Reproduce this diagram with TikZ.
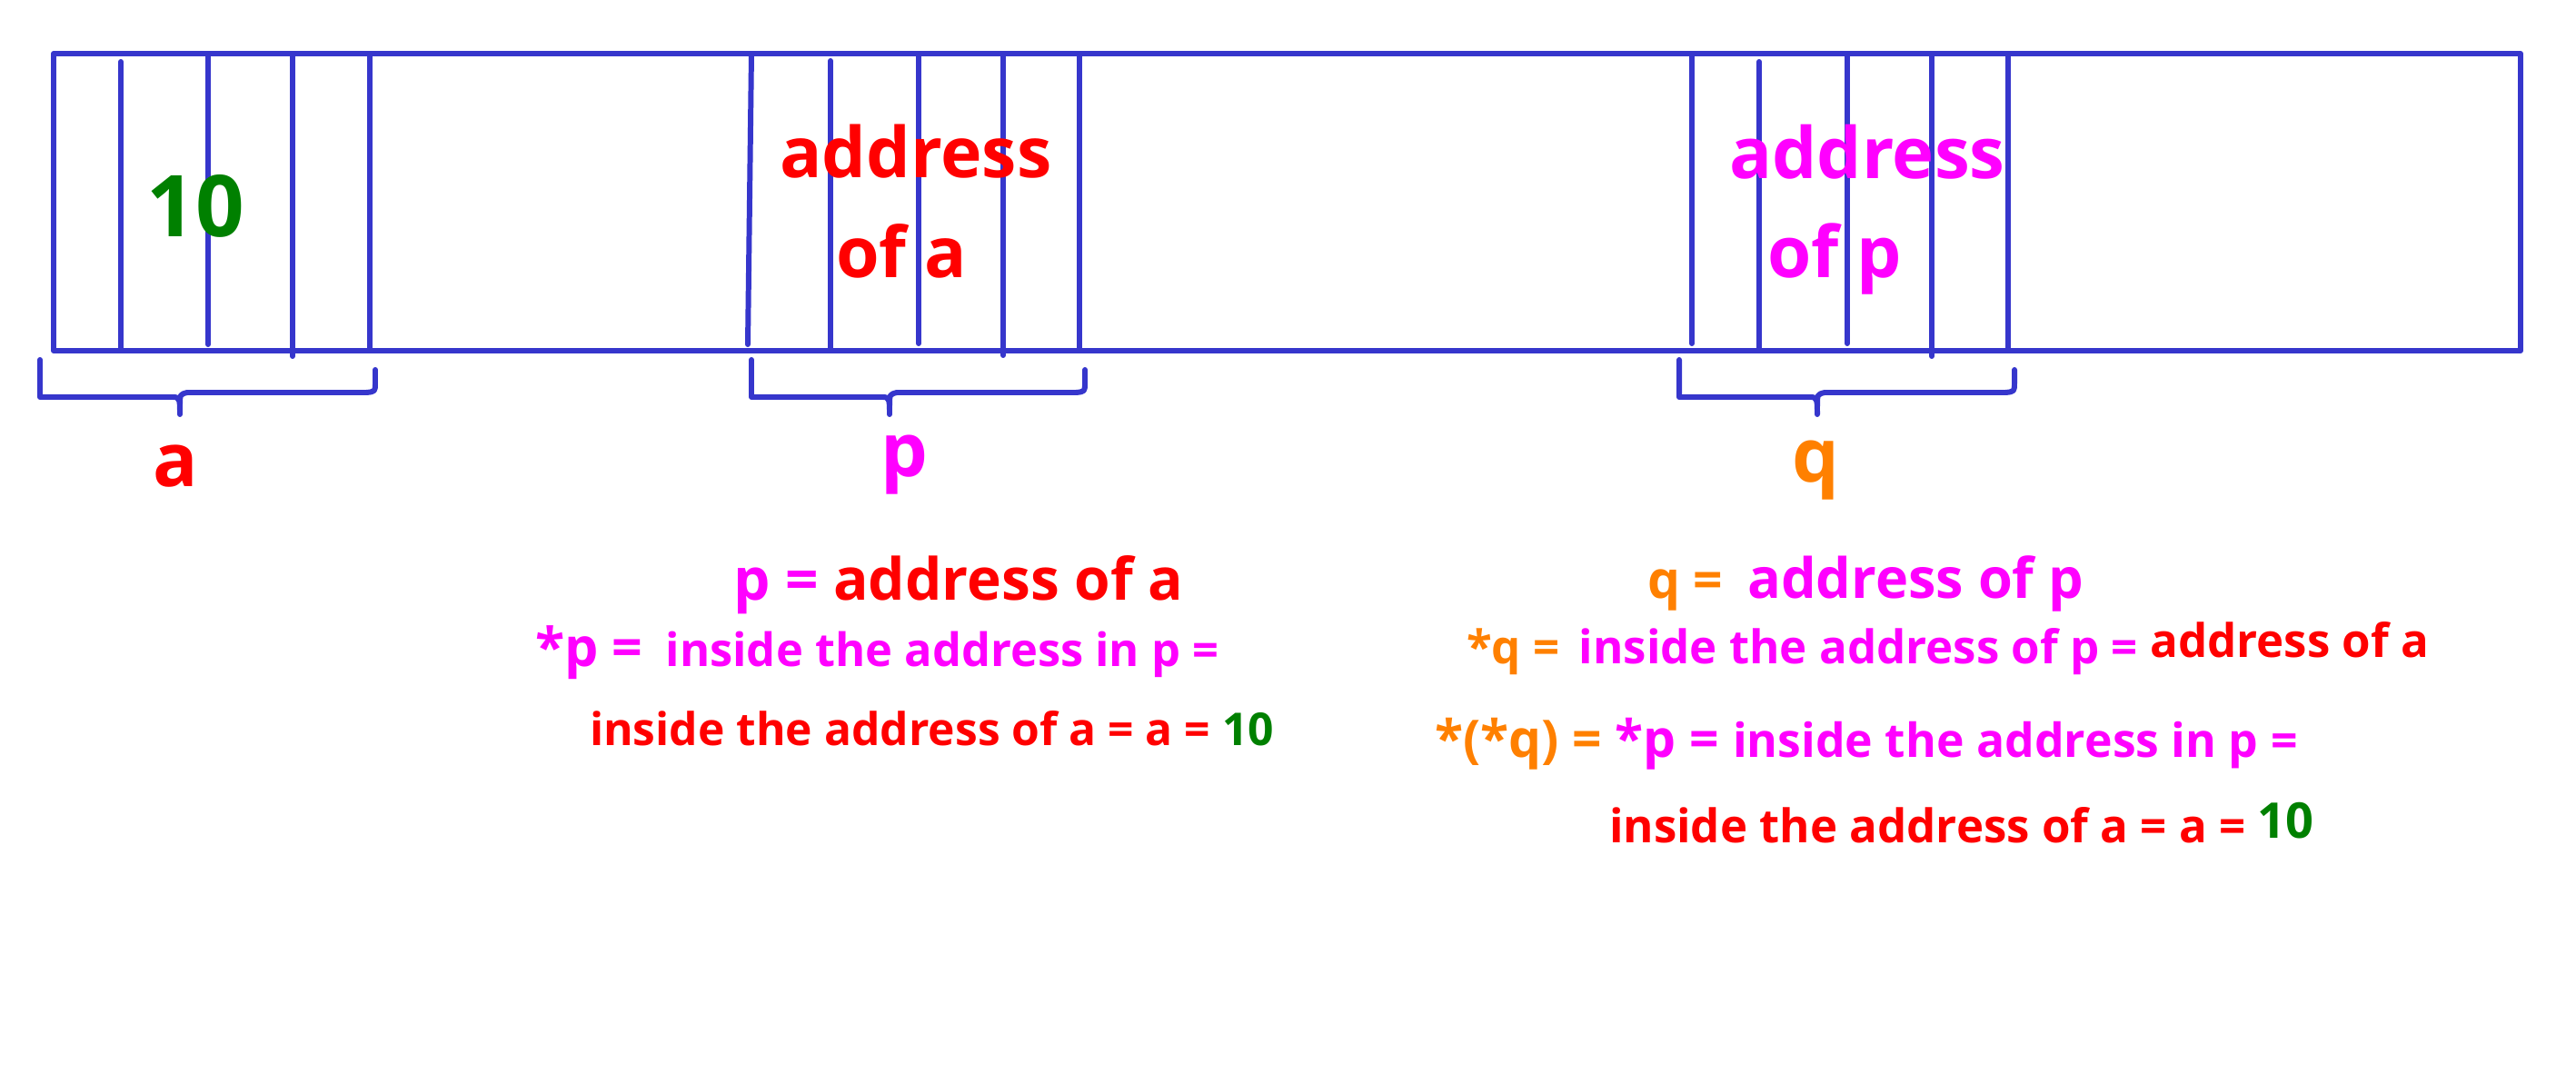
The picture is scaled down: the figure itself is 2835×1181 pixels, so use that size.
\documentclass[tikz,border=0pt]{standalone}
\usepackage{fontspec}
\setmainfont{Open Sans}
\definecolor{linecol}{RGB}{54,54,204}
\definecolor{cred}{RGB}{255,0,0}
\definecolor{cmag}{RGB}{255,0,255}
\definecolor{corg}{RGB}{255,128,0}
\definecolor{cgrn}{RGB}{0,128,0}
\newcommand\fsz[1]{\fontsize{#1}{#1}\selectfont}
\newcommand\drawbrace[3]{%
  \draw[mem] (#1,396) -- (#1,437) -- ({#2-7},437) .. controls (#2,437) and (#2,441) .. (#2,456);
  \draw[mem] (#2,447) .. controls (#2,434) .. ({#2+8},432) -- ({#3-10},432) .. controls (#3,431) .. (#3,421) -- (#3,407);}
\begin{document}
\begin{tikzpicture}[x=0.01cm,y=-0.01cm,
  mem/.style={draw=linecol,line width=1.7pt,line cap=round,line join=round},
  txt/.style={inner sep=0pt,outer sep=0pt,font=\bfseries},
  lbl/.style={txt,anchor=base,font=\bfseries\fsz{23.3pt}}]
\useasboundingbox (0,0) rectangle (2835,1181);
% memory strip
\draw[mem] (59,59) rectangle (2774,386);
% cells of a
\draw[mem] (133,68) -- (133,386);
\draw[mem] (229,59) -- (229,379);
\draw[mem] (322,59) -- (322,392);
\draw[mem] (407,59) -- (407,386);
% cells of p
\draw[mem] (827,59) -- (823,379);
\draw[mem] (914,67) -- (914,386);
\draw[mem] (1011,59) -- (1011,378);
\draw[mem] (1104,59) -- (1104,391);
\draw[mem] (1188,59) -- (1188,386);
% cells of q
\draw[mem] (1862,59) -- (1862,378);
\draw[mem] (1936,68) -- (1936,386);
\draw[mem] (2033,59) -- (2033,378);
\draw[mem] (2126,59) -- (2126,392);
\draw[mem] (2210,59) -- (2210,386);
% braces
\drawbrace{44}{198}{413}
\drawbrace{827}{979}{1194}
\drawbrace{1848}{2000}{2217}
% contents
\node[txt,anchor=base,text=cgrn,font=\bfseries\fsz{26.7pt}] (ten) at (215,260) {10};
\node[txt,anchor=base west,text=cred,font=\bfseries\fsz{21.9pt}] (pa1) at (858,195) {address};
\node[txt,anchor=base west,text=cred,font=\bfseries\fsz{21.9pt}] (pa2) at (920,305) {of a};
\node[txt,anchor=base west,text=cmag,font=\bfseries\fsz{22.2pt}] (qa1) at (1903,196) {address};
\node[txt,anchor=base west,text=cmag,font=\bfseries\fsz{22.2pt}] (qa2) at (1945,305) {of p};
% labels
\node[lbl,text=cred] (la) at (193,535) {a};
\node[lbl,text=cmag] (lp) at (995,524) {p};
\node[lbl,text=corg] (lq) at (1998,530) {q};
% left explanation
\node[txt,anchor=base west,font=\bfseries\fsz{18.2pt}] (l1) at (807,660)
  {\color{cmag}p = \color{cred}address of a};
\node[txt,anchor=base west] (l2) at (589,733)
  {\color{cmag}\fsz{16.8pt}*p =\hspace{0.25cm}\fsz{14.4pt}inside the address in p =};
\node[txt,anchor=base west,font=\bfseries\fsz{14.15pt}] (l3) at (649,820)
  {\color{cred}inside the address of a = a = \color{cgrn}10};
% right explanation
\node[txt,anchor=base west] (r1) at (1813,658)
  {\color{corg}\fsz{16.2pt}q = \hspace{0.12cm}\color{cmag}\fsz{17.4pt}address of p};
\node[txt,anchor=base west] (r2) at (1614,730)
  {\fsz{14.5pt}\color{corg}*q = \hspace{0.08cm}\color{cmag}inside the address of p = \raisebox{0.07cm}{\color{cred}address of a}};
\node[txt,anchor=base west] (r3) at (1579,833)
  {\fsz{16.2pt}\color{corg}*(*q) = \color{cmag}*p = \fsz{14.7pt}inside the address in p =};
\node[txt,anchor=base west] (r4) at (1771,927)
  {\fsz{14.5pt}\color{cred}inside the address of a = a = \raisebox{0.05cm}{\color{cgrn}\fsz{15.4pt}10}};
\end{tikzpicture}
\end{document}
